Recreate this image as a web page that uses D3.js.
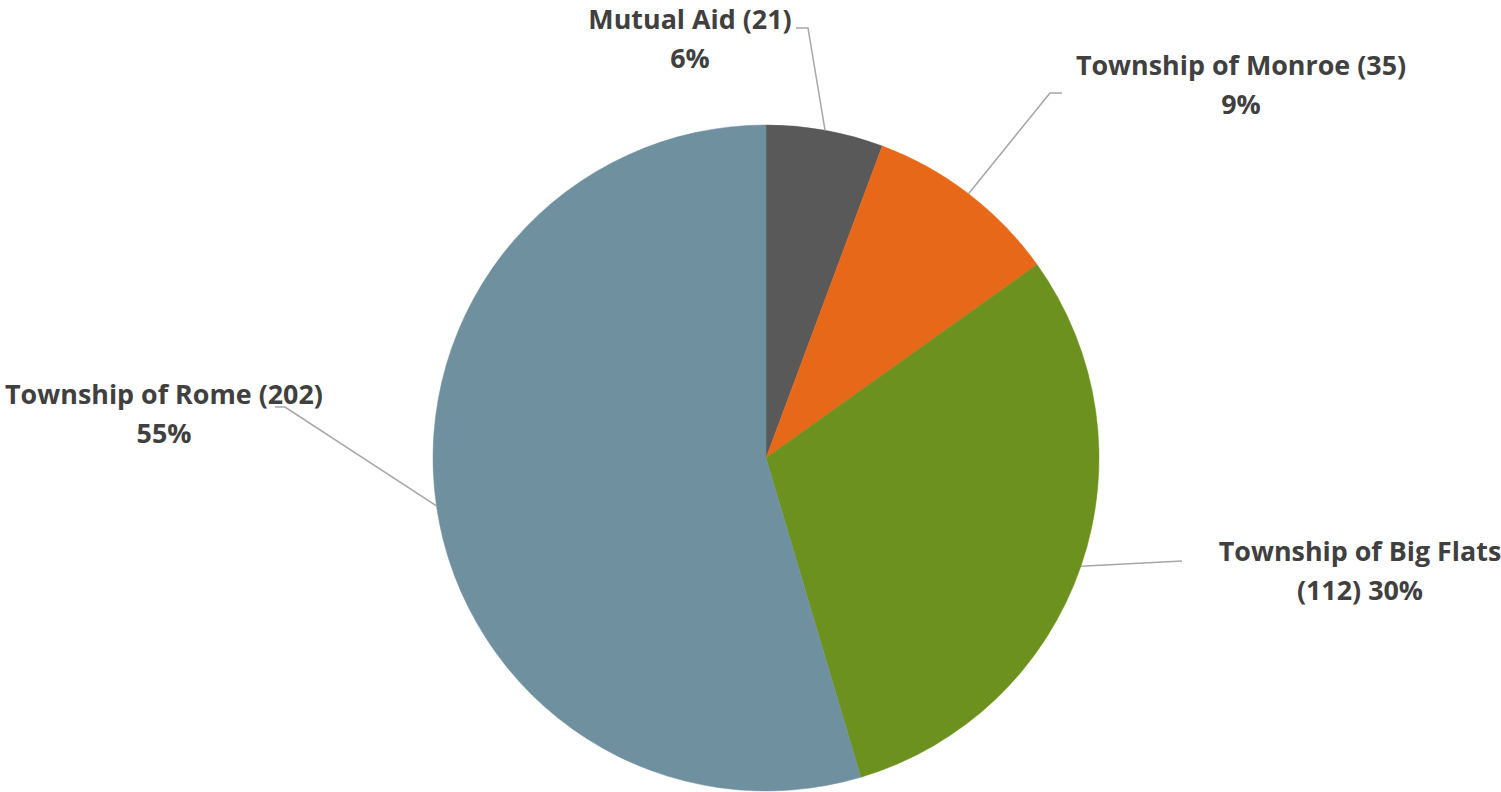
<!DOCTYPE html>
<html><head><meta charset="utf-8">
<script src="https://cdn.jsdelivr.net/npm/d3@7"></script>
<style>body{margin:0;background:#fff}svg{display:block}</style>
</head><body>
<svg id="c" width="1501" height="792"></svg>
<script>
const categories = ["Mutual Aid", "Township of Monroe", "Township of Big Flats", "Township of Rome"];
const values = [21, 35, 112, 202];
const colors = ["#595959", "#E8681A", "#6C911F", "#6F909F"];
// label line texts
const labelLines = [
  ["Mutual Aid (21)", "6%"],
  ["Township of Monroe (35)", "9%"],
  ["Township of Big Flats", "(112) 30%"],
  ["Township of Rome (202)", "55%"]
];
// layout: label centers and leader elbow points
const labelPos = [[690, 20], [1241, 66], [1360, 552], [164, 395]];
const elbows = [[[808, 28], [796, 28]], [[1050, 93], [1062, 93]], [[1182, 561], [1182, 561]], [[285, 407], [275, 407]]];

const svg = d3.select("#c");
const cx = 766, cy = 458, R = 333;
const data = categories.map((c, i) => ({c, v: values[i], i}));
const pie = d3.pie().value(d => d.v).sort(null);
const arcs = pie(data);
const arc = d3.arc().innerRadius(0).outerRadius(R);
const g = svg.append("g").attr("transform", `translate(${cx},${cy})`);
g.selectAll("path").data(arcs).enter().append("path")
  .attr("d", arc).attr("fill", d => colors[d.data.i])
  .attr("stroke", d => colors[d.data.i]).attr("stroke-width", 0.5);

// leader lines
arcs.forEach((a, i) => {
  const m = (a.startAngle + a.endAngle) / 2;
  const p0 = [cx + R * Math.sin(m), cy - R * Math.cos(m)];
  const pts = [p0, ...elbows[i]];
  svg.append("path").attr("d", d3.line()(pts))
    .attr("fill", "none").attr("stroke", "#A6A6A6").attr("stroke-width", 1.5);
});

// labels
const fam = "'Open Sans', 'DejaVu Sans', sans-serif";
let fs = 24;
const t = svg.append("text").attr("font-family", fam).attr("font-weight", "bold").attr("font-size", fs).text("Township of Rome (202)");
const w = t.node().getComputedTextLength();
t.remove();
fs = fs * 318 / w;
labelLines.forEach((lines, i) => {
  const [x, y] = labelPos[i];
  const tx = svg.append("text").attr("font-family", fam).attr("font-weight", "bold")
    .attr("font-size", fs).attr("fill", "#404040").attr("text-anchor", "middle");
  lines.forEach((l, k) => {
    tx.append("tspan").attr("x", x).attr("y", y + k * 39).attr("dy", "0.35em").text(l);
  });
});
</script>
</body></html>
